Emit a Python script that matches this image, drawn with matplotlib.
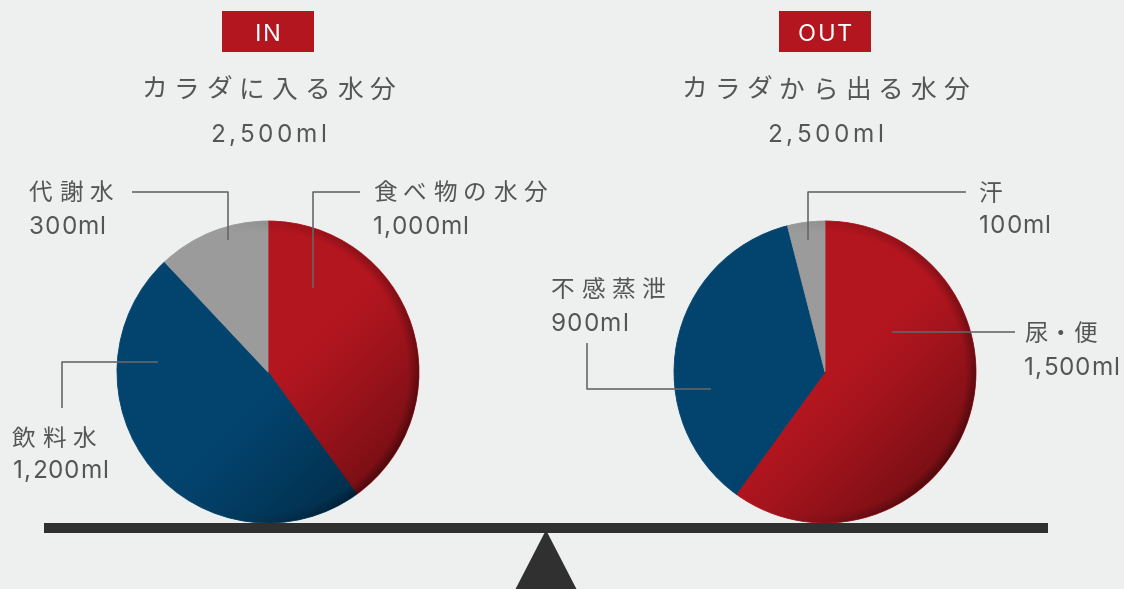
import numpy as np
import matplotlib
matplotlib.use("Agg")
import matplotlib.pyplot as plt
from matplotlib.patches import Rectangle, Polygon, Circle
from matplotlib.font_manager import FontProperties, findfont, get_font

# ---- data -------------------------------------------------------------
in_labels = ["食べ物の水分", "飲料水", "代謝水"]
in_values = [1000, 1200, 300]
out_labels = ["尿・便", "不感蒸泄", "汗"]
out_values = [1500, 900, 100]
slice_colors = ["#b3161f", "#03446f", "#9b9b9b"]
panel_tags = ["IN", "OUT"]
panel_titles = ["カラダに入る水分", "カラダから出る水分"]

# ---- canvas -----------------------------------------------------------
W, H, DPI = 1124, 589, 100
BG = "#eef0ef"
TEXT = "#555555"
LEAD = "#666666"
FONT_JP = ["Noto Sans CJK JP", "DejaVu Sans"]
FONT_NUM = ["Inter", "DejaVu Sans"]

fig = plt.figure(figsize=(W / DPI, H / DPI), dpi=DPI, facecolor=BG)
ax = fig.add_axes([0, 0, 1, 1])
ax.set_facecolor(BG)


def Y(y):
    """top-down pixel row -> data y"""
    return H - y


def advance(ch, fp):
    f = get_font(findfont(fp))
    f.set_size(fp.get_size_in_points(), DPI)
    g = f.load_char(ord(ch))
    return g.linearHoriAdvance / 65536.0


def spaced_text(x, yc, s, size, track, color=TEXT, ha="left", z=6,
                family=FONT_JP, weight="normal"):
    fp = FontProperties(family=family, size=size, weight=weight)
    em = size * DPI / 72
    adv = []
    for c in s:
        a = advance(c, fp)
        if c == "・":          # keep the middle dot tight
            a *= 0.55
        adv.append(a)
    total = sum(adv) + track * (len(s) - 1)
    x0 = x - total / 2 if ha == "center" else x
    base = yc + 0.37 * em
    for ch, a in zip(s, adv):
        dx = -0.22 * em if ch == "・" else 0.0
        ax.text(x0 + dx, Y(base), ch, fontproperties=fp, color=color,
                ha="left", va="baseline", zorder=z)
        x0 += a + track


def amount(x, yc, v, size=17.5, track=0.9, ha="left"):
    spaced_text(x, yc, f"{v:,}ml", size, track, ha=ha, family=FONT_NUM)


def shade(cx, cy, r):
    n = 500
    g = np.linspace(-1, 1, n)
    X, Yg = np.meshgrid(g, g)
    t = (X - Yg) / np.sqrt(2)
    a = 0.33 * np.clip((t - 0.05) / 0.95, 0, 1) ** 1.2
    rho = np.hypot(X, Yg)
    rim = np.clip((rho - 0.93) / 0.07, 0, 1) * np.clip(X + 0.3, 0, 1) * 0.25
    rgba = np.zeros((n, n, 4))
    rgba[..., 3] = np.clip(a + rim, 0, 0.55)
    im = ax.imshow(rgba, extent=(cx - r, cx + r, Y(cy) - r, Y(cy) + r),
                   origin="lower", zorder=3, interpolation="bilinear")
    im.set_clip_path(Circle((cx, Y(cy)), r, transform=ax.transData))


def pie(values, cx, cy, r):
    wedges, _ = ax.pie(values, colors=slice_colors, startangle=90,
                       counterclock=False, center=(cx, Y(cy)), radius=r,
                       frame=True, wedgeprops=dict(linewidth=0.6, zorder=2))
    for w in wedges:
        w.set_edgecolor(w.get_facecolor())
    shade(cx, cy, r)


def leader(pts):
    xs = [p[0] for p in pts]
    ys = [Y(p[1]) for p in pts]
    ax.plot(xs, ys, color=LEAD, lw=1.15, solid_capstyle="butt", zorder=5)


# ---- pies ---------------------------------------------------------------
R = 151
centers = [(268, 372), (825, 372)]
pie(in_values, *centers[0], R)
pie(out_values, *centers[1], R)

# ---- headers --------------------------------------------------------------
for (cx, _), tag, title, vals in zip(centers, panel_tags, panel_titles,
                                     [in_values, out_values]):
    bw = 92
    ax.add_patch(Rectangle((cx - bw / 2, Y(52)), bw, 41, color="#b3161f",
                           lw=0, zorder=4))
    spaced_text(cx, 32, tag, 17, 2.0, color="white", ha="center",
                family=FONT_NUM)
    spaced_text(cx, 88, title, 18.5, 7.0, ha="center")
    amount(cx, 133, sum(vals), track=3.6, ha="center")

# ---- labels & leaders -----------------------------------------------------
LBL, LT = 17, 6.5
# IN side
spaced_text(373, 191, in_labels[0], LBL, LT)
amount(373, 225, in_values[0])
leader([(360, 192), (313, 192), (313, 288)])

spaced_text(12, 437, in_labels[1], LBL, LT)
amount(13, 469, in_values[1])
leader([(62, 408), (62, 362), (158, 362)])

spaced_text(29, 191, in_labels[2], LBL, LT)
amount(29, 225, in_values[2])
leader([(132, 192), (228, 192), (228, 240)])

# OUT side
spaced_text(1024, 332, out_labels[0], LBL, LT)
amount(1024, 366, out_values[0])
leader([(892, 332), (1015, 332)])

spaced_text(551, 288, out_labels[1], LBL, LT)
amount(551, 322, out_values[1])
leader([(587, 343), (587, 389), (711, 389)])

spaced_text(979, 192, out_labels[2], LBL, LT)
amount(979, 224, out_values[2])
leader([(966, 192), (808, 192), (808, 240)])

# ---- balance beam ---------------------------------------------------------
BEAM = "#2f302f"
ax.add_patch(Rectangle((44, Y(533)), 1004, 10, color=BEAM, lw=0, zorder=7))
ax.add_patch(Polygon([(546, Y(530)), (514, Y(592)), (578, Y(592))],
                     closed=True, color=BEAM, lw=0, zorder=7))

ax.set_xlim(0, W)
ax.set_ylim(0, H)
ax.set_aspect("auto")
ax.axis("off")

fig.savefig("out.png", dpi=DPI, facecolor=BG)
